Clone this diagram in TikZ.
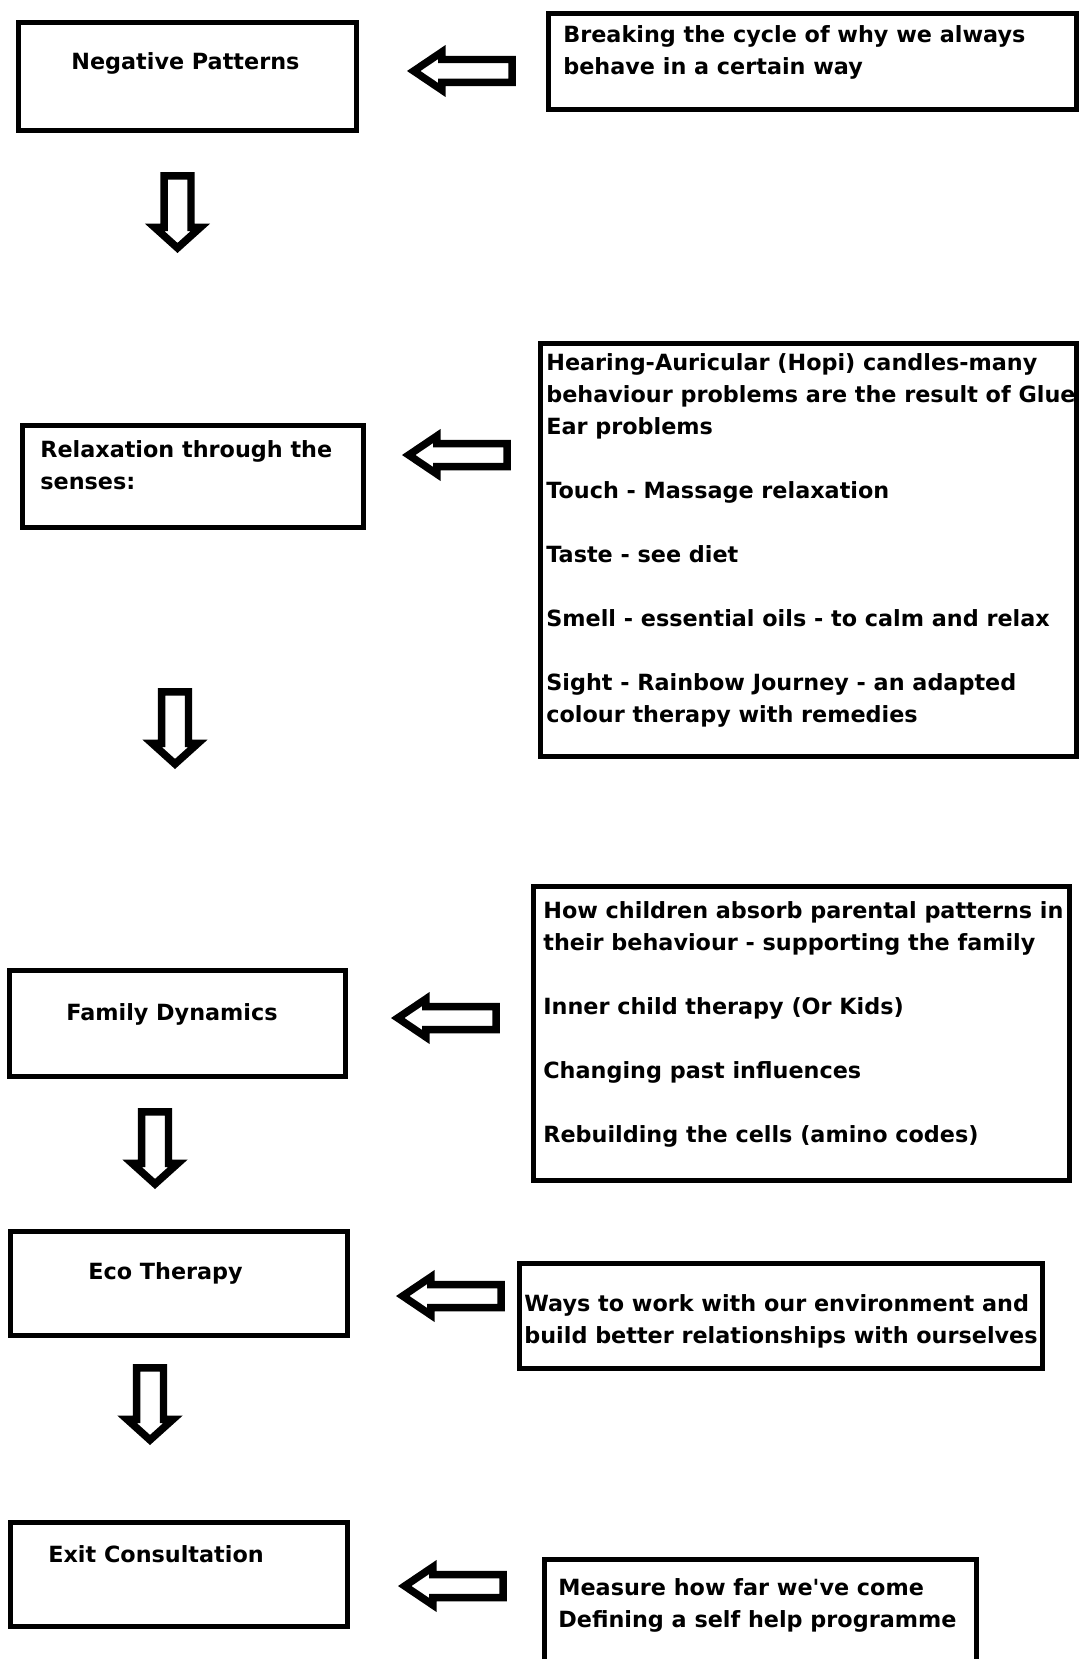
\documentclass[tikz,border=0pt]{standalone}
\usepackage{fontspec}
\setmainfont{DejaVu Sans}[Ligatures=TeXOff]
\usetikzlibrary{shapes.arrows}

\begin{document}
\begin{tikzpicture}[x=0.02cm,y=-0.02cm,
  font=\fontsize{12.7}{18.2}\selectfont\bfseries,
  stage/.style={draw,line width=0.1cm,inner sep=0pt},
  note/.style={anchor=north west,inner sep=0pt,align=left},
  leftarr/.style={single arrow,draw,line width=0.15cm,fill=white,inner xsep=0pt,inner ysep=0.155cm,
    single arrow head extend=0.15cm,single arrow tip angle=68,minimum height=1.97cm,rotate=180,anchor=tip},
  downarr/.style={single arrow,draw,line width=0.15cm,fill=white,inner xsep=0pt,inner ysep=0.195cm,
    single arrow head extend=0.185cm,single arrow tip angle=96,minimum height=1.44cm,rotate=-90,anchor=tip}]
  \useasboundingbox[fill=white] (0,0) rectangle (1078,1659);

  \node[stage,minimum width=6.76cm,minimum height=2.16cm] (neg) at (187.5,76.5) {};
  \node[note] (negtxt) at (71,52) {Negative Patterns};
  \node[stage,minimum width=10.56cm,minimum height=1.92cm] (cycle) at (812.5,61.5) {};
  \node[note] (cycletxt) at (563,25) {Breaking the cycle of why we always\\behave in a certain way};
  \node[leftarr] (larr1) at (407,71) {};
  \node[downarr] (darr1) at (177.5,253) {};

  \node[stage,minimum width=6.82cm,minimum height=2.04cm] (relax) at (193,476.5) {};
  \node[note] (relaxtxt) at (40,440) {Relaxation through the\\senses:};
  \node[stage,minimum width=10.72cm,minimum height=8.26cm] (senses) at (808.5,550) {};
  \node[note] (sensestxt) at (546,353) {Hearing-Auricular (Hopi) candles-many\\behaviour problems are the result of Glue\\Ear problems\\[0.64cm]
    Touch - Massage relaxation\\[0.64cm]
    Taste - see diet\\[0.64cm]
    Smell - essential oils - to calm and relax\\[0.64cm]
    Sight - Rainbow Journey - an adapted\\colour therapy with remedies};
  \node[leftarr] (larr2) at (402,455) {};
  \node[downarr] (darr2) at (175,769) {};

  \node[stage,minimum width=6.72cm,minimum height=2.12cm] (family) at (177.5,1023.5) {};
  \node[note] (familytxt) at (66,1003) {Family Dynamics};
  \node[stage,minimum width=10.72cm,minimum height=5.88cm] (child) at (801.5,1033.5) {};
  \node[note] (childtxt) at (543,901) {How children absorb parental patterns in\\their behaviour - supporting the family\\[0.64cm]
    Inner child therapy (Or Kids)\\[0.64cm]
    Changing past influences\\[0.64cm]
    Rebuilding the cells (amino codes)};
  \node[leftarr] (larr3) at (391,1018) {};
  \node[downarr] (darr3) at (155,1189) {};

  \node[stage,minimum width=6.74cm,minimum height=2.08cm] (eco) at (179,1283.5) {};
  \node[note] (ecotxt) at (88,1262) {Eco Therapy};
  \node[stage,minimum width=10.46cm,minimum height=2.10cm] (env) at (781,1316) {};
  \node[note] (envtxt) at (524,1294) {Ways to work with our environment and\\build better relationships with ourselves};
  \node[leftarr] (larr4) at (396,1296) {};
  \node[downarr] (darr4) at (150,1445) {};

  \node[stage,minimum width=6.74cm,minimum height=2.08cm] (exit) at (179,1574.5) {};
  \node[note] (exittxt) at (48,1545) {Exit Consultation};
  \node[stage,minimum width=8.64cm,minimum height=6.4cm] (measure) at (760.5,1719.5) {};
  \node[note] (measuretxt) at (558,1578) {Measure how far we've come\\Defining a self help programme};
  \node[leftarr] (larr5) at (398,1586) {};
\end{tikzpicture}
\end{document}
